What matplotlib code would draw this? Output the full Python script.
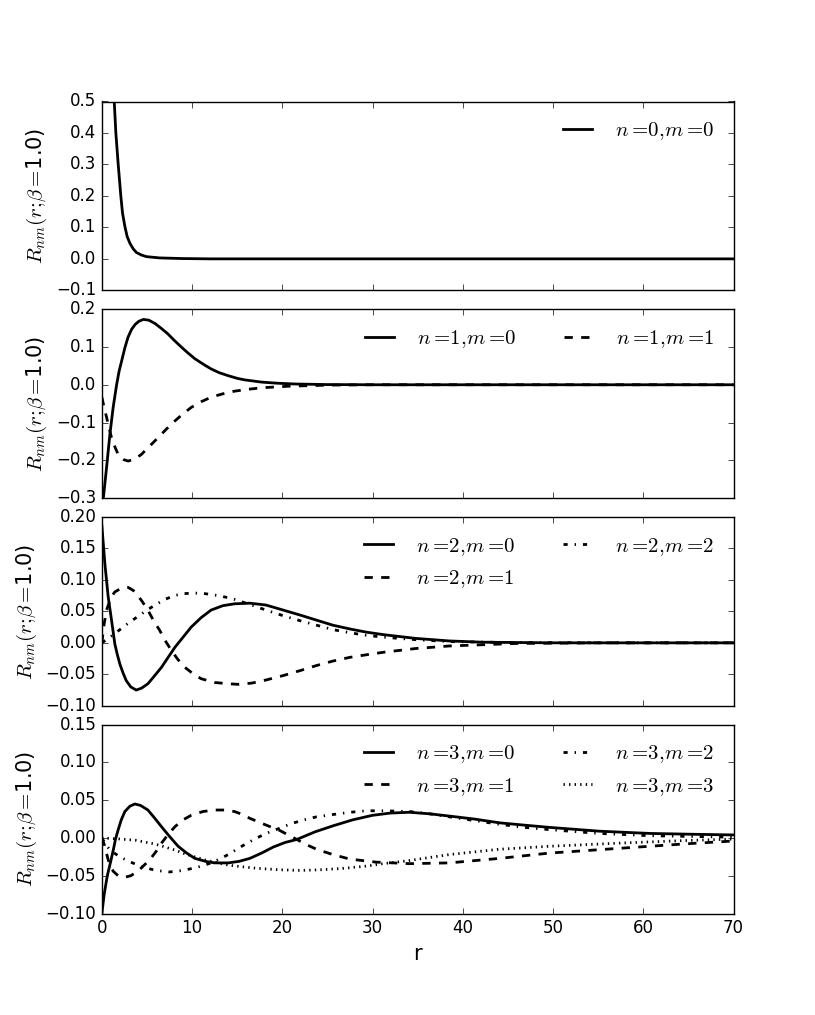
import matplotlib
matplotlib.use("Agg")
import matplotlib.pyplot as plt
from matplotlib.ticker import MultipleLocator

plt.style.use("classic")

# values
r00 = [0.8, 1.0, 1.2, 1.37, 1.55, 1.81, 2.1, 2.29, 2.55, 2.8, 3.1, 3.47, 3.84, 4.4, 4.95, 6.4, 8.9, 12, 70]
v00 = [1.2, 0.9, 0.65, 0.5, 0.4, 0.3, 0.2, 0.145, 0.103, 0.071, 0.050, 0.032, 0.020, 0.012, 0.007, 0.003, 0.001, 0, 0]

r10 = [0, 0.15, 0.52, 0.89, 1.25, 1.62, 1.9, 2.2, 2.55, 2.9, 3.3, 3.7, 4.1, 4.6, 5.2, 5.9, 6.6, 7.3, 8.0, 8.8, 9.5, 10.3, 11.2, 12.1, 13.0, 14.0, 15.0, 15.8, 17.7, 19.5, 21.4, 25, 30, 70]
v10 = [-0.34, -0.303, -0.219, -0.131, -0.060, -0.002, 0.035, 0.064, 0.098, 0.126, 0.147, 0.160, 0.168, 0.173, 0.171, 0.162, 0.149, 0.135, 0.118, 0.100, 0.085, 0.069, 0.055, 0.042, 0.032, 0.024, 0.017, 0.013, 0.007, 0.004, 0.002, 0.0005, 0, 0]
r11 = [0, 0.25, 0.52, 0.8, 1.07, 1.45, 1.8, 2.1, 2.4, 2.9, 3.5, 4.0, 4.4, 5.1, 5.9, 6.8, 7.7, 8.8, 9.9, 11.0, 12.1, 13.4, 14.7, 16.2, 17.7, 20.6, 25, 30, 70]
v11 = [-0.033, -0.06, -0.086, -0.115, -0.140, -0.165, -0.184, -0.193, -0.198, -0.202, -0.198, -0.191, -0.184, -0.167, -0.148, -0.126, -0.104, -0.081, -0.060, -0.045, -0.033, -0.024, -0.017, -0.012, -0.008, -0.004, -0.001, 0, 0]

r20 = [0, 0.33, 0.70, 1.07, 1.44, 1.7, 2.0, 2.35, 2.7, 3.2, 3.8, 4.4, 5.1, 5.8, 6.6, 7.3, 8.1, 9.0, 9.9, 11.0, 12.1, 13.4, 14.7, 16.4, 18.2, 20.1, 22, 23.8, 25.6, 27.5, 29.3, 31.2, 34.8, 38.5, 42.2, 50, 70]
v20 = [0.186, 0.126, 0.073, 0.036, -0.002, -0.018, -0.034, -0.048, -0.060, -0.070, -0.075, -0.072, -0.065, -0.053, -0.039, -0.024, -0.007, 0.009, 0.025, 0.040, 0.052, 0.059, 0.062, 0.063, 0.060, 0.052, 0.044, 0.036, 0.028, 0.022, 0.017, 0.013, 0.007, 0.003, 0.001, 0, 0]
r21 = [0, 0.25, 0.52, 1.0, 1.44, 2.2, 2.92, 3.5, 4.0, 4.5, 5.1, 5.7, 6.4, 7.0, 7.7, 8.4, 9.2, 10.1, 11.0, 12.5, 14.0, 15.2, 16.6, 18.2, 20.1, 22, 23.8, 25.6, 27.5, 29.3, 31.2, 34.8, 38.5, 42.2, 45.9, 55, 70]
v21 = [0.0, 0.03, 0.052, 0.072, 0.081, 0.087, 0.088, 0.083, 0.075, 0.065, 0.052, 0.036, 0.020, 0.004, -0.012, -0.026, -0.039, -0.049, -0.057, -0.063, -0.065, -0.066, -0.064, -0.059, -0.052, -0.044, -0.036, -0.029, -0.023, -0.019, -0.015, -0.009, -0.005, -0.003, -0.001, 0, 0]
r22 = [0, 1, 2, 3, 4, 5, 6, 7, 8, 9, 10, 11, 12, 13.3, 14.7, 16.4, 18.2, 20.1, 22, 23.8, 25.6, 27.5, 29.3, 31.2, 34.8, 38.5, 45, 55, 70]
v22 = [0.0, 0.010, 0.021, 0.032, 0.042, 0.052, 0.061, 0.069, 0.075, 0.078, 0.079, 0.079, 0.077, 0.074, 0.069, 0.061, 0.052, 0.043, 0.035, 0.028, 0.021, 0.016, 0.012, 0.009, 0.005, 0.002, 0.0005, 0, 0]

r30 = [0, 0.25, 0.6, 1.0, 1.3, 1.5, 1.81, 2.15, 2.55, 3.1, 3.65, 4.3, 5.1, 5.8, 6.6, 7.5, 8.45, 9.4, 10.3, 11.5, 12.5, 14.0, 15.2, 16.4, 17.7, 19.0, 20.3, 21.6, 23.6, 25.6, 27.8, 30.0, 32.0, 34.1, 36.3, 38.5, 41.3, 44.1, 46.8, 49.6, 55.1, 60.7, 65, 70]
v30 = [-0.100, -0.075, -0.050, -0.030, -0.014, -0.002, 0.011, 0.024, 0.035, 0.042, 0.045, 0.043, 0.037, 0.027, 0.015, 0.002, -0.011, -0.020, -0.027, -0.031, -0.033, -0.033, -0.031, -0.027, -0.020, -0.012, -0.006, -0.002, 0.008, 0.016, 0.024, 0.030, 0.033, 0.034, 0.032, 0.029, 0.025, 0.020, 0.017, 0.014, 0.009, 0.006, 0.005, 0.004]
r31 = [0, 0.3, 0.7, 1.0, 1.25, 1.8, 2.55, 3.2, 4.0, 4.6, 5.3, 6.0, 6.6, 7.3, 8.1, 9.0, 9.9, 11.2, 12.5, 13.6, 14.7, 15.6, 16.4, 18.0, 19.7, 21.6, 22.7, 23.8, 25.6, 27.5, 30.4, 34.1, 38.5, 44.1, 49.6, 57, 64.4, 70]
v31 = [0.0, -0.010, -0.029, -0.038, -0.044, -0.050, -0.052, -0.050, -0.044, -0.037, -0.029, -0.018, -0.007, 0.004, 0.015, 0.024, 0.030, 0.035, 0.037, 0.037, 0.035, 0.031, 0.026, 0.018, 0.010, -0.002, -0.009, -0.015, -0.022, -0.028, -0.032, -0.034, -0.033, -0.027, -0.020, -0.014, -0.008, -0.004]
r32 = [0, 0.5, 1.0, 2.0, 3.0, 4.0, 5.0, 6.0, 7.5, 9.0, 10.5, 11.4, 12.3, 13.2, 14.0, 15.5, 17.0, 18.2, 19.3, 21.0, 22.4, 23.8, 25.6, 27.5, 29.3, 31.2, 34.1, 36.3, 38.5, 41.3, 44.1, 46.8, 49.6, 55.1, 60.7, 70]
v32 = [0.0, -0.010, -0.017, -0.025, -0.031, -0.036, -0.040, -0.043, -0.045, -0.043, -0.039, -0.036, -0.032, -0.027, -0.022, -0.011, -0.001, 0.006, 0.011, 0.019, 0.024, 0.028, 0.031, 0.034, 0.036, 0.036, 0.035, 0.032, 0.028, 0.023, 0.018, 0.014, 0.011, 0.006, 0.003, 0.001]
r33 = [0, 1.6, 3.7, 5.9, 7.0, 8.1, 9.2, 10.3, 11.4, 12.5, 13.6, 14.7, 17.0, 19.5, 22, 24.5, 27, 29.5, 31.2, 34.0, 38.5, 44, 49.6, 57, 64.4, 70]
v33 = [0.0, -0.001, -0.003, -0.008, -0.012, -0.016, -0.021, -0.025, -0.029, -0.032, -0.035, -0.037, -0.040, -0.042, -0.043, -0.042, -0.040, -0.037, -0.034, -0.030, -0.022, -0.015, -0.011, -0.007, -0.0035, -0.0015]

styles = ['-', '--', '-.', ':']
panels = [
    ([(r00, v00)], (-0.1, 0.5), 0.1, 1),
    ([(r10, v10), (r11, v11)], (-0.3, 0.2), 0.1, 2),
    ([(r20, v20), (r21, v21), (r22, v22)], (-0.1, 0.2), 0.05, 2),
    ([(r30, v30), (r31, v31), (r32, v32), (r33, v33)], (-0.1, 0.15), 0.05, 2),
]

fig, axes = plt.subplots(4, 1, sharex=True, figsize=(8.15, 10.15), dpi=100)
fig.subplots_adjust(left=0.125, right=0.9, top=0.9, bottom=0.1, hspace=0.1)

for n, (ax, (curves, ylim, step, ncol)) in enumerate(zip(axes, panels)):
    for m, (r, v) in enumerate(curves):
        ax.plot(r, v, color='k', lw=2, ls=styles[m],
                label=r'$n=\!%d{,}m=\!%d$' % (n, m))
    ax.set_xlim(0, 70)
    ax.set_ylim(*ylim)
    ax.yaxis.set_major_locator(MultipleLocator(step))
    ax.xaxis.set_major_locator(MultipleLocator(10))
    ax.set_ylabel(r'$R_{nm}(r;\!\beta=\!$' + '1.0)', fontsize=15)
    ax.legend(loc='upper right', ncol=ncol, frameon=False, fontsize=15)

axes[-1].set_xlabel('r', fontsize=15)

fig.savefig('out.png', dpi=100)
